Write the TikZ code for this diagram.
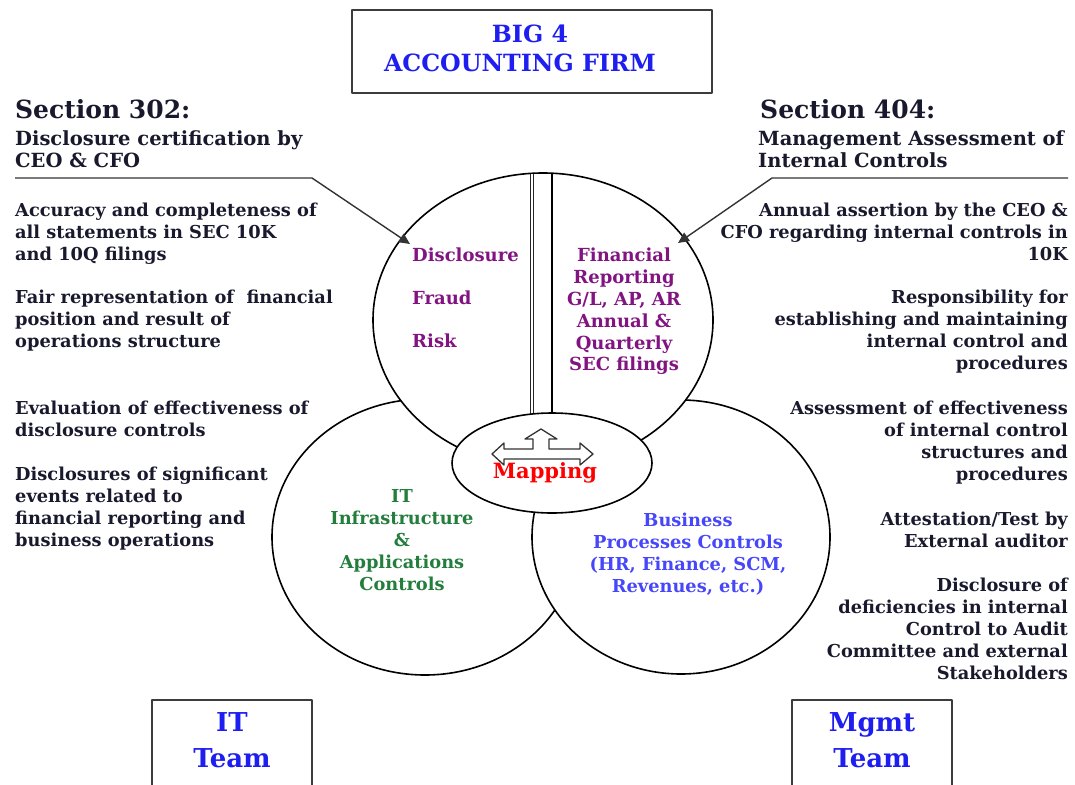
\documentclass[tikz,border=0pt]{standalone}
\usepackage{fontspec}
\setmainfont{DejaVu Serif}
\usetikzlibrary{arrows.meta}

\definecolor{ink}{RGB}{25,25,45}
\definecolor{firmblue}{RGB}{30,30,240}
\definecolor{plum}{RGB}{130,20,130}
\definecolor{itgreen}{RGB}{35,125,60}
\definecolor{bpblue}{RGB}{70,70,250}
\definecolor{boxline}{RGB}{60,60,60}

\tikzset{
  body/.style={font=\fontsize{17.8}{22}\selectfont\bfseries, text=ink, inner sep=0pt},
  lcol/.style={body, align=left, anchor=north west},
  rcol/.style={body, align=right, anchor=north east},
  subhead/.style={body, font=\fontsize{19.5}{22}\selectfont\bfseries, align=left, anchor=north west},
  heading/.style={font=\fontsize{25}{28}\selectfont\bfseries, text=ink, inner sep=0pt, anchor=north west},
  ring/.style={draw=black, fill=white, line width=1.6pt},
  frame/.style={draw=boxline, line width=2pt, fill=white},
  teamtext/.style={font=\fontsize{26}{36}\selectfont\bfseries, text=firmblue, align=center, inner sep=0pt},
  pointer/.style={draw=black!80, line width=1.4pt, -{Triangle[length=11pt,width=10pt]}},
  maparrow/.style={draw=black!80, fill=white, line width=1.3pt}
}

\begin{document}
\begin{tikzpicture}[x=1pt, y=-1pt, line join=round]
\useasboundingbox (0,0) rectangle (1075,784);

% the three circles, top one last
\filldraw[ring] (425,537) ellipse [x radius=153, y radius=138];
\filldraw[ring] (681,537) ellipse [x radius=149, y radius=137];
\filldraw[ring] (543,320) ellipse [x radius=170, y radius=147];

% divider in the top circle
\draw[black!85, line width=0.9pt, double=white, double distance=1.3pt] (532,174) -- (532,414);
\draw[line width=1.6pt] (552,174) -- (552,414);

% mapping
\filldraw[ring] (552,463) ellipse [x radius=100, y radius=50];
\draw[maparrow] (492,454) -- (504,443) -- (504,449) -- (533,449) -- (533,439) -- (525,439)
  -- (541,429) -- (557,439) -- (549,439) -- (549,449) -- (580,449) -- (580,443)
  -- (593,454) -- (580,465) -- (580,459) -- (504,459) -- (504,465) -- cycle;
\node[font=\fontsize{21}{24}\selectfont\bfseries, text=red, inner sep=0pt] (mapping) at (545,473) {Mapping};

% top box
\draw[frame] (352,10) rectangle (712,93);
\node[teamtext, font=\fontsize{23.7}{29}\selectfont\bfseries] (firm) at (520,48)
  {\hspace*{20pt}BIG 4\\ACCOUNTING FIRM};

% team boxes
\draw[frame] (152,700) rectangle (312,800);
\draw[frame] (792,700) rectangle (952,800);
\node[teamtext] (itteam) at (232,740) {IT\\Team};
\node[teamtext] (mgmtteam) at (872,740) {Mgmt\\Team};

% section 302
\node[heading] (sec302) at (15,99) {Section 302:};
\node[subhead] (cert) at (15,130) {Disclosure certification by\\CEO \& CFO};
\node[lcol] (accuracy) at (15,203) {Accuracy and completeness of\\all statements in SEC 10K\\and 10Q filings};
\node[lcol] (fair) at (15,290) {Fair representation of~ financial\\position and result of\\operations structure};
\node[lcol] (evaluation) at (15,401) {Evaluation of effectiveness of\\disclosure controls};
\node[lcol] (events) at (15,467) {Disclosures of significant\\events related to\\financial reporting and\\business operations};

% section 404
\node[heading] (sec404) at (760,99) {Section 404:};
\node[subhead] (mgmt) at (758,130) {Management Assessment of\\Internal Controls};
\node[rcol] (assertion) at (1068,203) {Annual assertion by the CEO \&\\CFO regarding internal controls in\\10K};
\node[rcol] (responsibility) at (1068,290) {Responsibility for\\establishing and maintaining\\internal control and\\procedures};
\node[rcol] (assessment) at (1068,401) {Assessment of effectiveness\\of internal control\\structures and\\procedures};
\node[rcol] (attestation) at (1068,512) {Attestation/Test by\\External auditor};
\node[rcol] (deficiency) at (1068,578) {Disclosure of\\deficiencies in internal\\Control to Audit\\Committee and external\\Stakeholders};

% pointers into the top circle
\coordinate (railL) at (15,178);
\coordinate (bendL) at (312,178);
\coordinate (tipL) at (410,244);
\coordinate (railR) at (1068,178);
\coordinate (bendR) at (772,178);
\coordinate (tipR) at (678,243);
\draw[pointer] (railL) -- (bendL) -- (tipL);
\draw[pointer] (railR) -- (bendR) -- (tipR);

% circle contents
\node[body, text=plum, align=left, anchor=north west, font=\fontsize{18}{43}\selectfont\bfseries] (disclosure) at (412,248) {Disclosure\\Fraud\\Risk};
\node[body, text=plum, align=center, anchor=north, font=\fontsize{18}{21.8}\selectfont\bfseries] (reporting) at (624,248) {Financial\\Reporting\\G/L, AP, AR\\Annual \&\\Quarterly\\ SEC filings};
\node[body, text=itgreen, align=center, anchor=north] (itctrl) at (402,489) {IT\\Infrastructure\\\&\\Applications\\Controls};
\node[body, text=bpblue, align=center, anchor=north] (bpctrl) at (688,513) {Business\\Processes Controls\\(HR, Finance, SCM,\\Revenues, etc.)};

\end{tikzpicture}
\end{document}
